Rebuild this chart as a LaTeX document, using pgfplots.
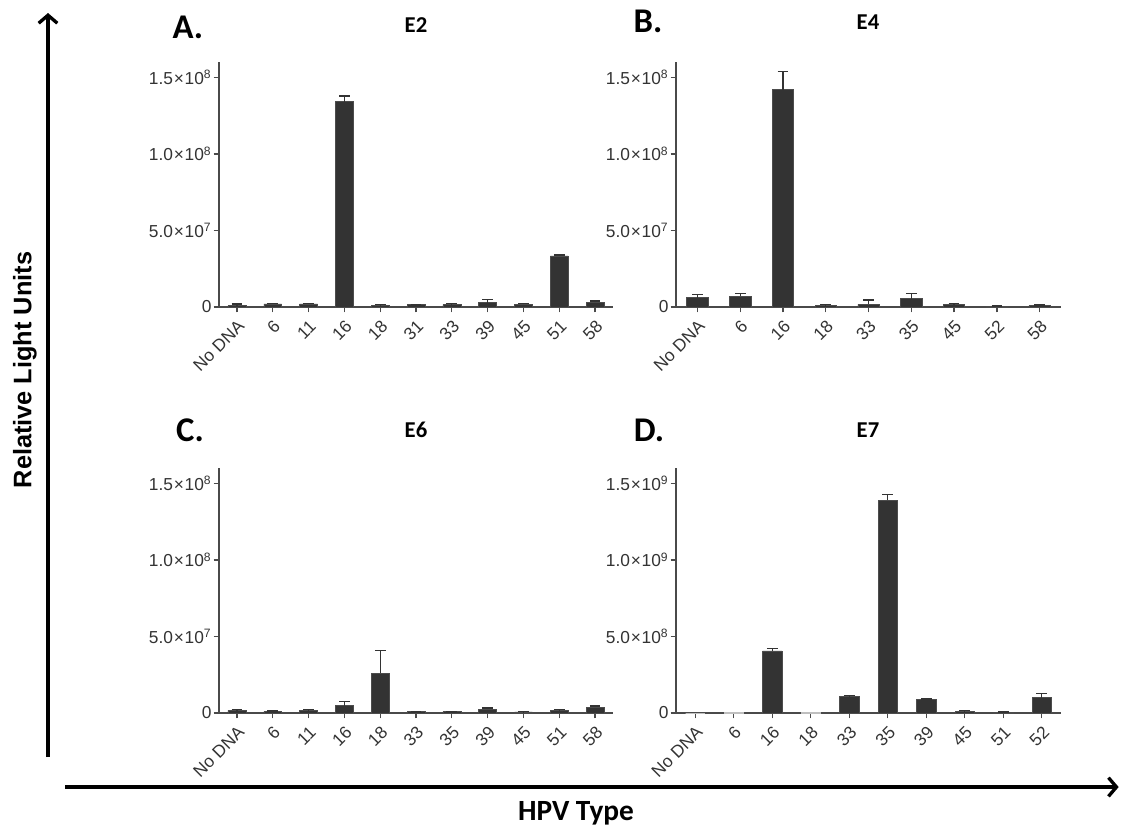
\documentclass[border=0pt]{standalone}
\usepackage{pgfplots}
\pgfplotsset{compat=1.18}
\usepackage{fontspec}
\setmainfont{Liberation Sans}
\newfontfamily\calibri{Carlito}
\usetikzlibrary{arrows.meta}
\definecolor{barcol}{HTML}{333333}
\definecolor{axcol}{HTML}{4A4A4A}
\definecolor{tickcol}{HTML}{333333}
\newcommand{\sci}[2]{#1\kern0.6pt×\kern0.6pt10\textsuperscript{#2}}
\pgfplotsset{
  panel/.style={
    scale only axis, anchor=south west,
    ybar, bar width=0.5, bar shift=0pt, ymin=0,
    axis x line=bottom, axis y line=left,
    axis line style={-, line width=1pt, draw=axcol},
    tick align=outside, major tick length=4pt,
    tick style={line width=1pt, draw=axcol},
    scaled y ticks=false,
    yticklabel style={font=\fontsize{13}{15}\selectfont, text=tickcol, inner sep=1.5pt},
    xticklabel style={rotate=45, anchor=north east, font=\fontsize{13}{15}\selectfont, text=tickcol, inner sep=3.5pt},
    clip=false,
  },
  plainbar/.style={fill=barcol, draw=gray!60!black, line width=0.4pt},
  barst/.style={fill=barcol, draw=gray!60!black, line width=0.4pt,
    error bars/.cd, y dir=plus, y explicit,
    error bar style={line width=1pt, draw=barcol},
    error mark options={rotate=90, mark size=4pt, line width=1pt, draw=barcol}},
}
\begin{document}
\begin{tikzpicture}
\useasboundingbox (0,0) rectangle (841.5pt,-621.75pt);

% Panel A: E2
\begin{axis}[panel, at={(164.25pt,-230.25pt)}, width=295.5pt, height=183.75pt,
  xmin=-0.5, xmax=10.5, ymax=1.6e8,
  xtick={0,...,10}, xticklabels={No DNA,6,11,16,18,31,33,39,45,51,58},
  ytick={0,5e7,1e8,1.5e8}, yticklabels={0,\sci{5.0}{7},\sci{1.0}{8},\sci{1.5}{8}}]
\addplot[barst] coordinates {
 (0,0.9e6) +- (0,1.1e6)
 (1,2.0e6) +- (0,0.5e6)
 (2,2.0e6) +- (0,0.5e6)
 (3,1.341e8) +- (0,3.7e6)
 (4,1.1e6) +- (0,0.4e6)
 (5,1.5e6) +- (0,0.2e6)
 (6,1.5e6) +- (0,0.6e6)
 (7,2.8e6) +- (0,2.0e6)
 (8,1.7e6) +- (0,0.7e6)
 (9,3.34e7) +- (0,0.6e6)
 (10,3.05e6) +- (0,0.9e6)
};
\end{axis}

% Panel B: E4
\begin{axis}[panel, at={(507pt,-230.25pt)}, width=288.75pt, height=183.75pt,
  xmin=-0.5, xmax=8.5, ymax=1.6e8,
  xtick={0,...,8}, xticklabels={No DNA,6,16,18,33,35,45,52,58},
  ytick={0,5e7,1e8,1.5e8}, yticklabels={0,\sci{5.0}{7},\sci{1.0}{8},\sci{1.5}{8}}]
\addplot[barst] coordinates {
 (0,6.1e6) +- (0,2.1e6)
 (1,7.1e6) +- (0,1.6e6)
 (2,1.42e8) +- (0,1.2e7)
 (3,0.9e6) +- (0,0.6e6)
 (4,1.7e6) +- (0,2.9e6)
 (5,5.5e6) +- (0,3.5e6)
 (6,1.5e6) +- (0,0.7e6)
 (7,0.4e6) +- (0,0.2e6)
 (8,0.9e6) +- (0,0.5e6)
};
\end{axis}

% Panel C: E6
\begin{axis}[panel, at={(164.25pt,-534.75pt)}, width=295.5pt, height=183.75pt,
  xmin=-0.5, xmax=10.5, ymax=1.6e8,
  xtick={0,...,10}, xticklabels={No DNA,6,11,16,18,33,35,39,45,51,58},
  ytick={0,5e7,1e8,1.5e8}, yticklabels={0,\sci{5.0}{7},\sci{1.0}{8},\sci{1.5}{8}}]
\addplot[barst] coordinates {
 (0,1.7e6) +- (0,0.5e6)
 (1,1.0e6) +- (0,0.3e6)
 (2,1.7e6) +- (0,0.5e6)
 (3,4.8e6) +- (0,2.6e6)
 (4,2.6e7) +- (0,1.5e7)
 (5,0.9e6) +- (0,0.2e6)
 (6,0.9e6) +- (0,0.2e6)
 (7,2.6e6) +- (0,0.7e6)
 (8,0.8e6) +- (0,0.1e6)
 (9,1.7e6) +- (0,0.4e6)
 (10,3.9e6) +- (0,0.7e6)
};
\end{axis}

% Panel D: E7
\begin{axis}[panel, at={(507pt,-534.75pt)}, width=288.75pt, height=183.75pt,
  xmin=-0.5, xmax=9.5, ymax=1.6e9,
  xtick={0,...,9}, xticklabels={No DNA,6,16,18,33,35,39,45,51,52},
  ytick={0,5e8,1e9,1.5e9}, yticklabels={0,\sci{5.0}{8},\sci{1.0}{9},\sci{1.5}{9}}]
\addplot[plainbar, draw=gray!50] coordinates {
 (0,0) (1,4e6) (3,4e6)
};
\addplot[barst] coordinates {
 (2,4.06e8) +- (0,1.7e7)
 (4,1.08e8) +- (0,5e6)
 (5,1.391e9) +- (0,3.5e7)
 (6,8.7e7) +- (0,5e6)
 (7,1.1e7) +- (0,5e6)
 (8,6e6) +- (0,1e6)
 (9,1.0e8) +- (0,2.6e7)
};
\end{axis}

% titles and panel letters
\node[font=\calibri\bfseries\fontsize{17}{19}\selectfont] at (312pt,-18.75pt) {E2};
\node[font=\calibri\bfseries\fontsize{17}{19}\selectfont] at (651pt,-16.5pt) {E4};
\node[font=\calibri\bfseries\fontsize{17}{19}\selectfont] at (312pt,-322.5pt) {E6};
\node[font=\calibri\bfseries\fontsize{17}{19}\selectfont] at (651pt,-322.5pt) {E7};
\node[font=\calibri\bfseries\fontsize{26}{28}\selectfont] at (141pt,-20.25pt) {A.};
\node[font=\calibri\bfseries\fontsize{26}{28}\selectfont] at (486pt,-15.75pt) {B.};
\node[font=\calibri\bfseries\fontsize{26}{28}\selectfont] at (142.5pt,-322.5pt) {C.};
\node[font=\calibri\bfseries\fontsize{26}{28}\selectfont] at (486.75pt,-322.5pt) {D.};

% big arrows and axis names
\draw[line width=3pt, -{Straight Barb[length=6pt,width=14pt,line width=2.5pt]}] (36pt,-567.75pt) -- (36pt,-9.75pt);
\draw[line width=3pt, -{Straight Barb[length=6pt,width=14pt,line width=2.5pt]}] (48.75pt,-590.25pt) -- (839pt,-590.25pt);
\node[rotate=90, font=\bfseries\fontsize{19}{22}\selectfont] at (18.75pt,-277.5pt) {Relative Light Units};
\node[anchor=base, font=\calibri\bfseries\fontsize{22}{24}\selectfont] at (432pt,-615pt) {HPV Type};
\end{tikzpicture}
\end{document}
